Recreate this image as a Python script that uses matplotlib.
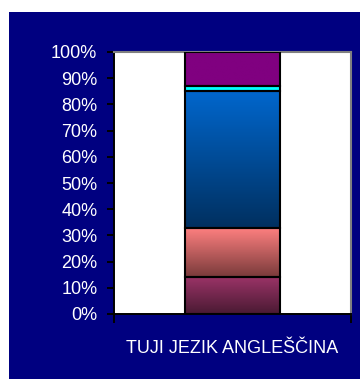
import matplotlib
matplotlib.use("Agg")
import matplotlib.pyplot as plt
import matplotlib.colors as mcolors
import numpy as np

plt.rcParams['font.family'] = ['Liberation Sans', 'DejaVu Sans']

category = "TUJI JEZIK ANGLEŠČINA"
shares = [14, 19, 52, 2, 13]
top_colors = ["#993366", "#FF8080", "#0066CC", "#00FFFF", "#800080"]
bottom_colors = ["#4A1A33", "#7A3B3B", "#003060", "#00FFFF", "#800080"]
y_ticks = [0, 10, 20, 30, 40, 50, 60, 70, 80, 90, 100]

navy = "#000080"

fig = plt.figure(figsize=(3.6, 3.79), dpi=100)
fig.patch.set_facecolor("white")
# navy panel behind the chart
fig.patches.append(plt.Rectangle((9 / 360, 0), 1, 1 - 12 / 379, transform=fig.transFigure,
                                 facecolor=navy, edgecolor="none", zorder=-1))

ax = fig.add_axes([114 / 360, 1 - 314 / 379, 237 / 360, 262 / 379])
ax.set_facecolor("white")

# stacked 100% column, each piece filled with a vertical gradient
bottom = 0
for val, c_top, c_bot in zip(shares, top_colors, bottom_colors):
    bar = ax.bar(0, val, width=0.4, bottom=bottom, facecolor="none",
                 edgecolor="black", linewidth=1.5, zorder=3)[0]
    x0, y0 = bar.get_x(), bar.get_y()
    x1, y1 = x0 + bar.get_width(), y0 + bar.get_height()
    cmap = mcolors.LinearSegmentedColormap.from_list("seg", [c_bot, c_top])
    grad = np.linspace(0, 1, 64).reshape(-1, 1)
    ax.imshow(grad, cmap=cmap, extent=(x0, x1, y0, y1), origin="lower",
              aspect="auto", zorder=2, interpolation="bilinear")
    bottom += val

ax.set_xlim(-0.5, 0.5)
ax.set_ylim(0, 100)

ax.set_yticks(y_ticks)
ax.set_yticklabels([f"{t}%" for t in y_ticks])
ax.tick_params(axis="y", colors="black", labelcolor="white", labelsize=13,
               length=5, width=1.4, pad=7, direction="out")

ax.set_xticks([-0.5, 0.5])
ax.set_xticklabels(["", ""])
ax.set_xticks([0], [category], minor=True)
ax.tick_params(axis="x", which="major", length=6.5, width=1.4, colors="black")
ax.tick_params(axis="x", which="minor", length=0, labelcolor="white",
               labelsize=13, pad=19)

for side in ["left", "bottom"]:
    ax.spines[side].set_color("black")
    ax.spines[side].set_linewidth(1.4)
for side in ["top", "right"]:
    ax.spines[side].set_color("#808080")
    ax.spines[side].set_linewidth(1.5)

fig.savefig("out.png", dpi=100, facecolor=fig.get_facecolor())
